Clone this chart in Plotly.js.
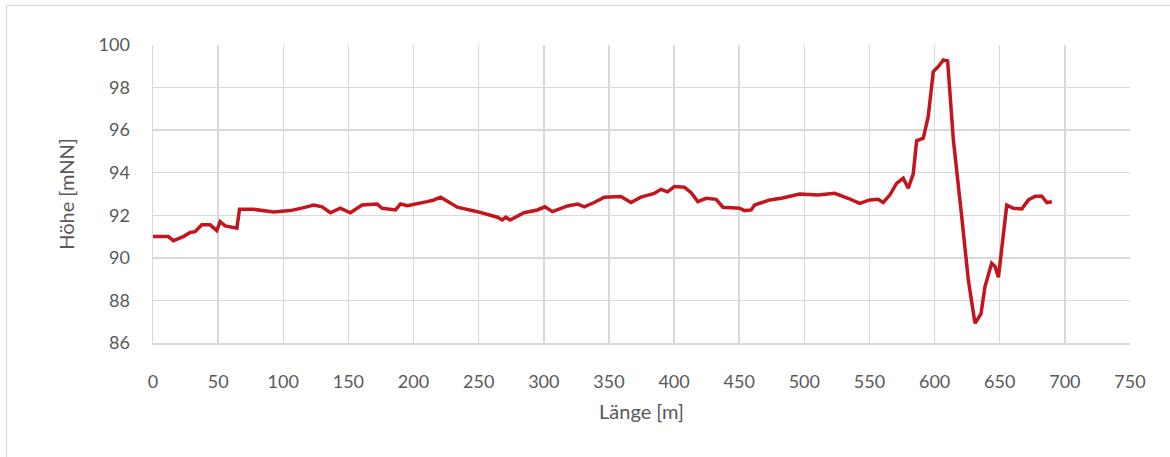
<!DOCTYPE html>
<html>
<head>
<meta charset="utf-8">
<script src="https://cdn.plot.ly/plotly-3.0.1.min.js"></script>
<style>
html,body{margin:0;padding:0;background:#fff;width:1170px;height:457px;overflow:hidden;}
#frame{position:absolute;left:6px;top:5px;width:2000px;height:1000px;border-left:1px solid #d9d9d9;border-top:1px solid #d9d9d9;}
#chart{position:absolute;left:0;top:0;width:1170px;height:457px;}
</style>
</head>
<body>
<div id="frame"></div>
<div id="chart"></div>
<script>
const laenge = [0, 2, 11.8, 15.6, 23.3, 28.5, 32.3, 37.4, 43.8, 49, 51.5, 55.4, 64.4, 66.4, 77.2, 92.5, 105.4, 115, 123.3, 129.8, 136.2, 143.8, 151.5, 160.5, 172, 175.9, 186.2, 190, 195.2, 210.5, 215.6, 220.8, 224.6, 233.6, 249, 264.4, 268.2, 270.8, 274.1, 284.8, 295.1, 300.8, 306.7, 318.2, 325.9, 331, 338.7, 346.4, 359.2, 366.9, 374.6, 384.8, 390, 395, 400.2, 407.9, 413.1, 418.2, 424.6, 432.3, 437.5, 450.2, 454.1, 459.2, 461.8, 473.3, 482.3, 488.7, 496.4, 510.5, 523.3, 533.6, 542.5, 550.2, 556.7, 560.5, 565.6, 570.8, 575.9, 579.8, 583.6, 586.2, 591.3, 595.1, 599, 602.8, 606.7, 610, 614.4, 620.8, 625.9, 631, 635.6, 638.7, 643.8, 646.4, 649, 655.4, 660.5, 667, 672, 677.2, 682.3, 686.2, 690];
const hoehe = [91.0, 91.0, 91.0, 90.81, 91.0, 91.19, 91.23, 91.55, 91.55, 91.28, 91.7, 91.5, 91.39, 92.28, 92.28, 92.16, 92.22, 92.35, 92.48, 92.4, 92.12, 92.33, 92.12, 92.48, 92.53, 92.33, 92.25, 92.53, 92.45, 92.64, 92.72, 92.85, 92.72, 92.38, 92.17, 91.91, 91.78, 91.91, 91.78, 92.12, 92.25, 92.4, 92.17, 92.44, 92.53, 92.4, 92.6, 92.85, 92.88, 92.6, 92.85, 93.03, 93.22, 93.1, 93.35, 93.32, 93.06, 92.64, 92.8, 92.75, 92.38, 92.33, 92.22, 92.25, 92.48, 92.72, 92.8, 92.88, 93.0, 92.95, 93.03, 92.8, 92.56, 92.72, 92.75, 92.6, 92.95, 93.5, 93.74, 93.27, 93.95, 95.5, 95.62, 96.63, 98.75, 98.98, 99.3, 99.25, 95.54, 91.94, 88.96, 86.93, 87.37, 88.65, 89.75, 89.6, 89.09, 92.48, 92.33, 92.3, 92.72, 92.9, 92.9, 92.6, 92.64];
const xTitle = "Länge [m]";
const yTitle = "Höhe [mNN]";

const trace = {
  x: laenge, y: hoehe, type: 'scatter', mode: 'lines',
  line: {color: '#c4141c', width: 3.5}, hoverinfo: 'x+y'
};
const gray = '#595959';
const layout = {
  width: 1170, height: 457,
  margin: {l: 153, r: 40, t: 45, b: 114, pad: 0},
  paper_bgcolor: 'rgba(0,0,0,0)', plot_bgcolor: '#fff',
  showlegend: false,
  font: {family: 'Lato, "Open Sans", sans-serif', color: gray, size: 18},
  xaxis: {
    range: [0, 750], dtick: 50, tick0: 0, showgrid: true, gridcolor: '#d9d9d9', gridwidth: 1.5,
    zeroline: false, showline: true, linecolor: '#d9d9d9', linewidth: 1.5,
    ticks: '', ticklabelstandoff: 22, tickfont: {size: 18, color: gray},
    title: {text: xTitle, font: {size: 20, color: gray}, standoff: 14}
  },
  yaxis: {
    range: [86, 100], dtick: 2, tick0: 86, showgrid: true, gridcolor: '#d9d9d9', gridwidth: 1.5,
    zeroline: false, showline: true, linecolor: '#d9d9d9', linewidth: 1.5,
    ticks: '', ticklabelstandoff: 18, tickfont: {size: 18, color: gray},
    title: {text: yTitle, font: {size: 20, color: gray}, standoff: 18}
  }
};
Plotly.newPlot('chart', [trace], layout, {displayModeBar: false, staticPlot: true});
</script>
</body>
</html>
